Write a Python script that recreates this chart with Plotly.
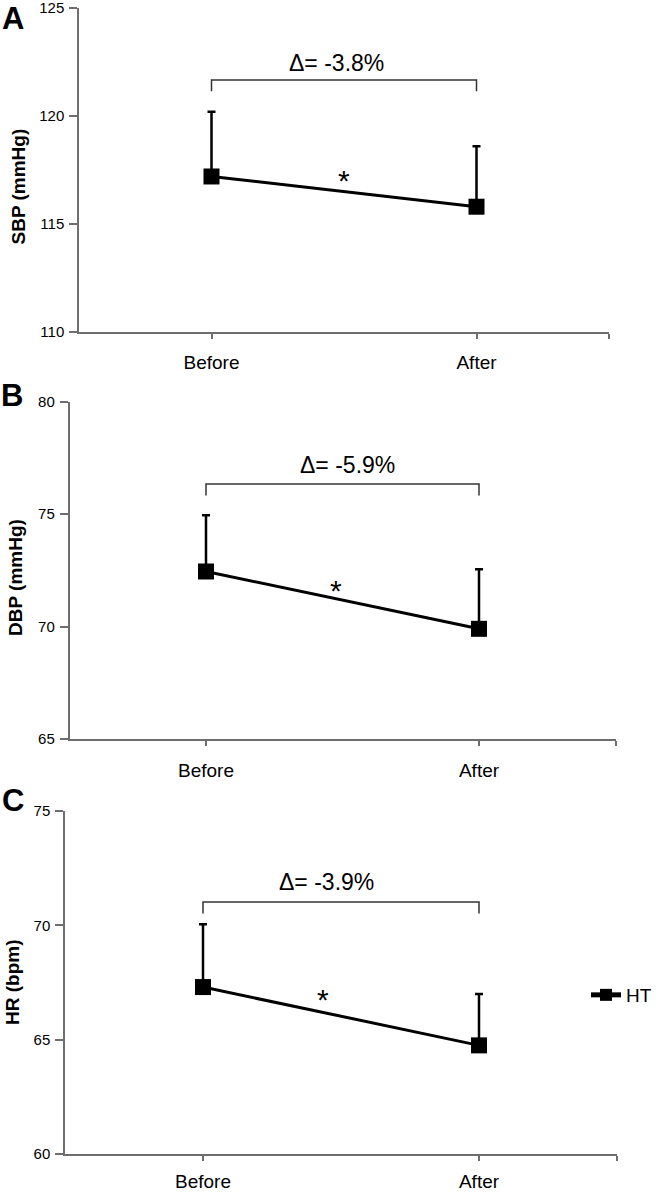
import plotly.graph_objects as go

# ---------------- data ----------------
categories = ["Before", "After"]
series_name = "HT"

sbp_mean = [117.2, 115.8]
sbp_sd = [3.0, 2.8]
dbp_mean = [72.45, 69.9]
dbp_sd = [2.5, 2.65]
hr_mean = [67.3, 64.75]
hr_sd = [2.75, 2.25]

delta_labels = ["Δ= -3.8%", "Δ= -5.9%", "Δ= -3.9%"]
y_titles = ["SBP (mmHg)", "DBP (mmHg)", "HR (bpm)"]
panel_letters = ["A", "B", "C"]
y_ranges = [[110, 125], [65, 80], [60, 75]]
y_ticks = [[110, 115, 120, 125], [65, 70, 75, 80], [60, 65, 70, 75]]

# ---------------- layout helpers ----------------
W, H = 667, 1195
FONT = "Liberation Sans, Arial, sans-serif"
AXIS_COLOR = "#6e6e6e"


def px_x(p):
    return p / W


def px_y(p):
    return 1 - p / H


# pixel geometry of each panel (left, right, top, bottom)
panels_px = [(79, 609, 8, 332), (69.5, 615.5, 401.7, 739), (65, 617, 811, 1154)]
x_label_standoff = [7, 8, 4]
# bracket (top, end) and label / asterisk positions in data units
bracket_cfg = [(121.67, 121.15), (76.34, 75.83), (71.02, 70.52)]
delta_pos = [(0.47, 122.45), (0.52, 77.2), (0.447, 71.9)]
star_pos = [(0.5, 117.0), (0.476, 71.6), (0.435, 66.75)]
title_pos = [(18.5, 187), (15, 578), (12, 983)]
letter_pos = [(13, 18), (12, 396), (13, 800)]

means = [sbp_mean, dbp_mean, hr_mean]
sds = [sbp_sd, dbp_sd, hr_sd]
xs = list(range(len(categories)))

fig = go.Figure()
annotations = []
shapes = []

for i in range(3):
    sfx = "" if i == 0 else str(i + 1)
    fig.add_trace(go.Scatter(
        x=xs, y=means[i], name=series_name,
        mode="lines+markers",
        line=dict(color="black", width=3),
        marker=dict(symbol="square", size=16, color="black"),
        error_y=dict(type="data", symmetric=False, array=sds[i],
                     arrayminus=[0] * len(sds[i]), color="black",
                     thickness=2.5, width=4),
        xaxis="x" + sfx, yaxis="y" + sfx,
        showlegend=(i == 2),
    ))
    l, r, t, b = panels_px[i]
    fig.layout["xaxis" + sfx] = dict(
        domain=[px_x(l), px_x(r)], anchor="y" + sfx, range=[-0.5, 1.5],
        tickmode="array", tickvals=xs + [1.5], ticktext=categories + [""],
        showline=True, linecolor=AXIS_COLOR, linewidth=1.5,
        ticks="outside", ticklen=5, tickcolor=AXIS_COLOR, tickwidth=1.5,
        showgrid=False, zeroline=False, ticklabelstandoff=x_label_standoff[i],
        tickfont=dict(family=FONT, size=19, color="black"),
        fixedrange=True, automargin=False, ticklabeloverflow="allow",
    )
    fig.layout["yaxis" + sfx] = dict(
        domain=[px_y(b), px_y(t)], anchor="x" + sfx, range=y_ranges[i],
        tickmode="array", tickvals=y_ticks[i],
        showline=True, linecolor=AXIS_COLOR, linewidth=1.5,
        ticks="outside", ticklen=8, tickcolor=AXIS_COLOR, tickwidth=1.5,
        showgrid=False, zeroline=False, ticklabelstandoff=2,
        tickfont=dict(family=FONT, size=15, color="black"),
        fixedrange=True, automargin=False, ticklabeloverflow="allow",
    )
    btop, bend = bracket_cfg[i]
    shapes.append(dict(
        type="path", xref="x" + sfx, yref="y" + sfx,
        path=f"M 0 {bend} L 0 {btop} L 1 {btop} L 1 {bend}",
        line=dict(color="#333333", width=1.5),
    ))
    annotations.append(dict(
        x=delta_pos[i][0], y=delta_pos[i][1], xref="x" + sfx, yref="y" + sfx,
        text=delta_labels[i], showarrow=False,
        xanchor="center", yanchor="middle",
        font=dict(family=FONT, size=23, color="black"),
    ))
    annotations.append(dict(
        x=star_pos[i][0], y=star_pos[i][1], xref="x" + sfx, yref="y" + sfx,
        text="*", showarrow=False,
        xanchor="center", yanchor="middle",
        font=dict(family=FONT, size=30, color="black"),
    ))
    annotations.append(dict(
        x=px_x(title_pos[i][0]), y=px_y(title_pos[i][1]), xref="paper", yref="paper",
        text="<b>" + y_titles[i] + "</b>", textangle=-90, showarrow=False,
        xanchor="center", yanchor="middle",
        font=dict(family=FONT, size=19, color="black"),
    ))
    annotations.append(dict(
        x=px_x(letter_pos[i][0]), y=px_y(letter_pos[i][1]), xref="paper", yref="paper",
        text="<b>" + panel_letters[i] + "</b>", showarrow=False,
        xanchor="center", yanchor="middle",
        font=dict(family=FONT, size=31, color="black"),
    ))

fig.update_layout(
    width=W, height=H,
    margin=dict(l=0, r=0, t=0, b=0, autoexpand=False),
    paper_bgcolor="white", plot_bgcolor="white",
    annotations=annotations, shapes=shapes,
    showlegend=True,
    legend=dict(x=px_x(586), y=px_y(995), xanchor="left", yanchor="middle",
                bgcolor="rgba(0,0,0,0)", borderwidth=0, itemsizing="constant",
                font=dict(family=FONT, size=19, color="black"),
                itemwidth=30),
)

# remove the browser's default 8px page margin so the figure sits at (0, 0)
fig.write_html(
    "out.html",
    config={"displayModeBar": False},
    post_script="document.body.style.margin='0';document.body.style.overflow='hidden';",
)
